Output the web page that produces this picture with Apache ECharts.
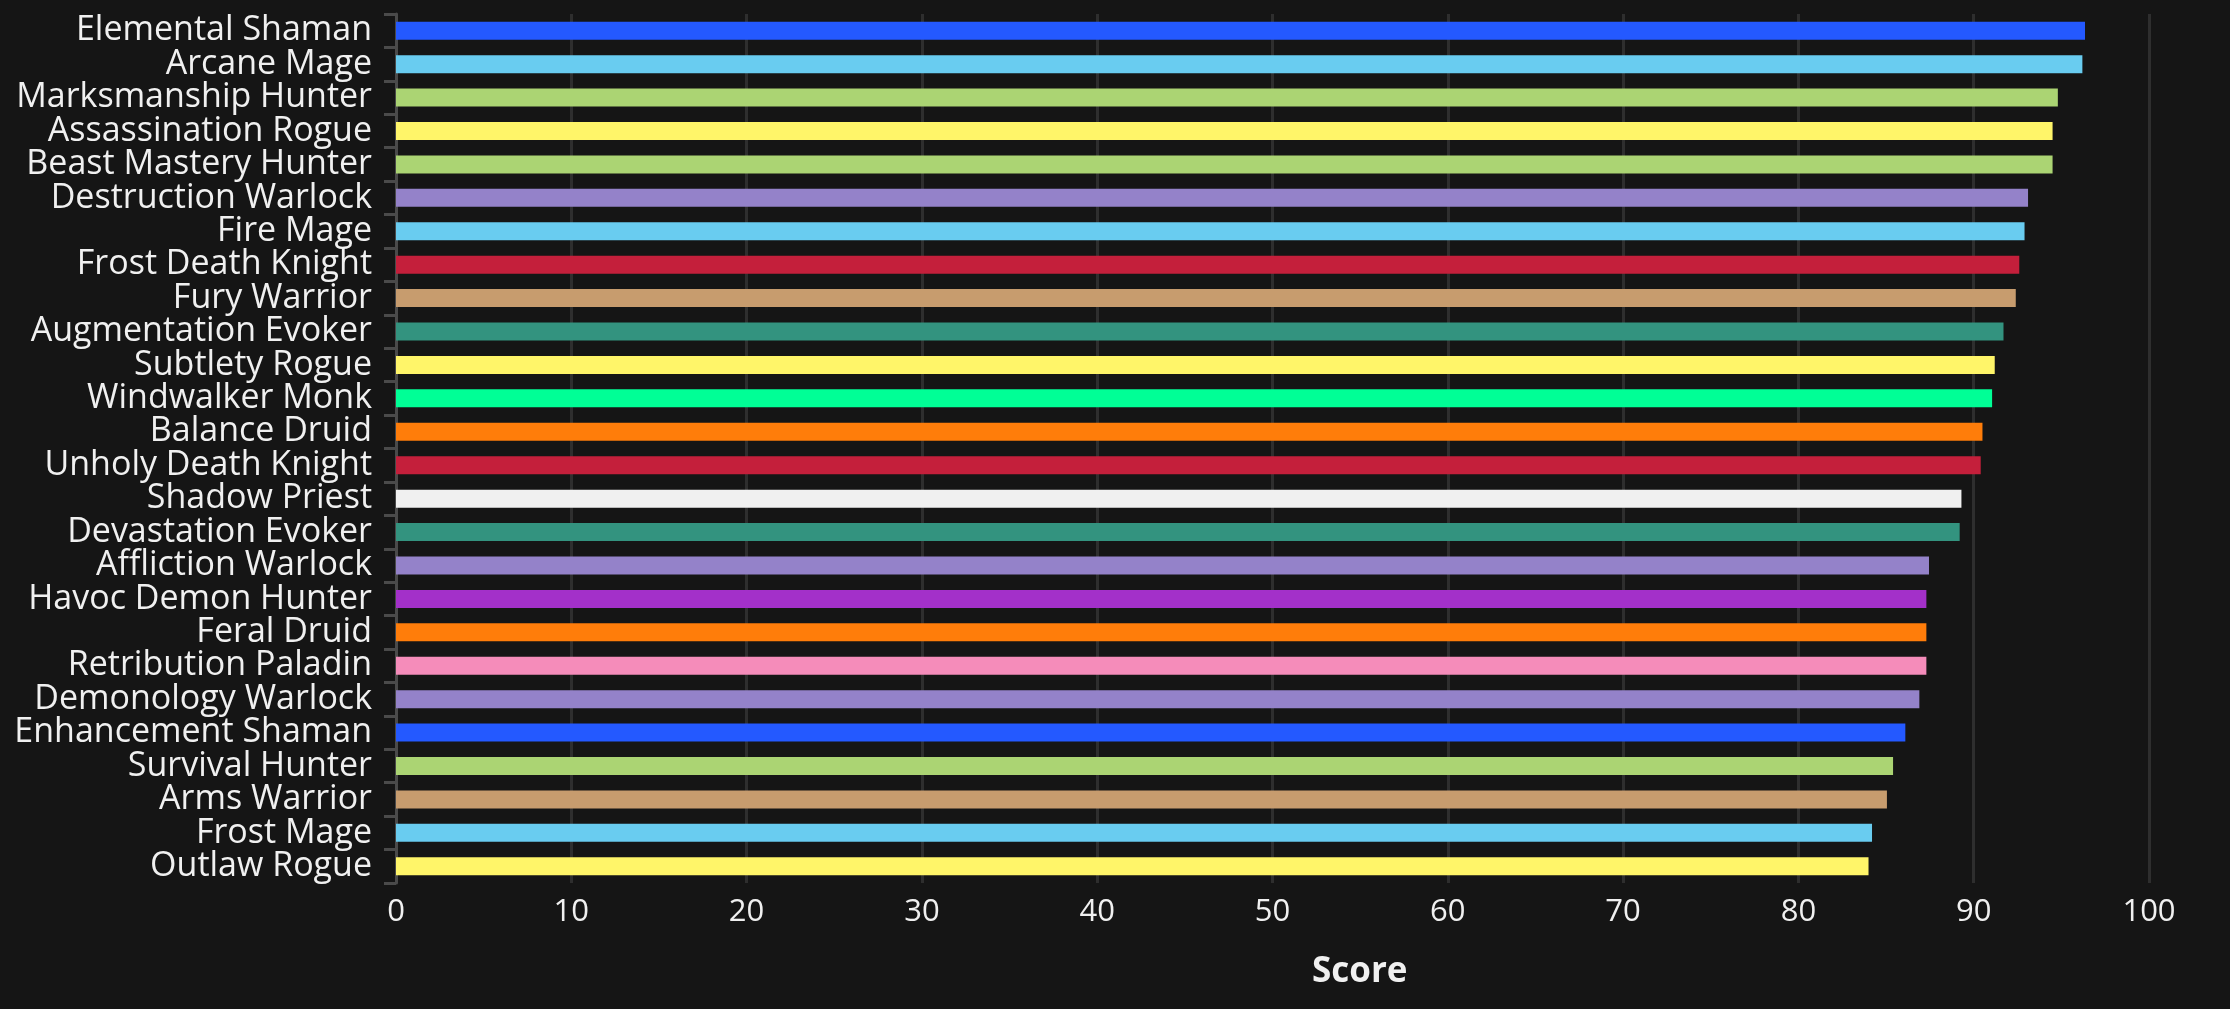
<!DOCTYPE html>
<html><head><meta charset="utf-8">
<script src="https://cdn.jsdelivr.net/npm/echarts@6/dist/echarts.min.js"></script>
<style>html,body{margin:0;padding:0;background:#151515;}#c{width:2230px;height:1009px;}</style>
</head><body><div id="c"></div>
<script>
const specs = ["Elemental Shaman","Arcane Mage","Marksmanship Hunter","Assassination Rogue","Beast Mastery Hunter","Destruction Warlock","Fire Mage","Frost Death Knight","Fury Warrior","Augmentation Evoker","Subtlety Rogue","Windwalker Monk","Balance Druid","Unholy Death Knight","Shadow Priest","Devastation Evoker","Affliction Warlock","Havoc Demon Hunter","Feral Druid","Retribution Paladin","Demonology Warlock","Enhancement Shaman","Survival Hunter","Arms Warrior","Frost Mage","Outlaw Rogue"];
const scores = [96.35,96.2,94.8,94.5,94.5,93.1,92.9,92.6,92.4,91.7,91.2,91.05,90.5,90.4,89.3,89.2,87.45,87.3,87.3,87.3,86.9,86.1,85.4,85.05,84.2,84.0];
const barColors = ["#2459FF","#69CCF0","#ABD473","#FFF569","#ABD473","#9482C9","#69CCF0","#C41F3B","#C79C6E","#33937F","#FFF569","#00FF96","#FF7D0A","#C41F3B","#F0F0F0","#33937F","#9482C9","#A330C9","#FF7D0A","#F58CBA","#9482C9","#2459FF","#ABD473","#C79C6E","#69CCF0","#FFF569"];
const xTicks = {min:0, max:100, interval:10};
const axisName = "Score";

const chart = echarts.init(document.getElementById('c'), null, {renderer:'canvas'});
chart.setOption({
  backgroundColor:'#151515',
  animation:false,
  grid:{left:396, right:81, top:14, bottom:126, containLabel:false},
  xAxis:{
    type:'value', min:xTicks.min, max:xTicks.max, interval:xTicks.interval,
    axisLine:{show:false}, axisTick:{show:false},
    splitLine:{show:true, lineStyle:{color:'#2e2e2e', width:3}},
    axisLabel:{color:'#f0f0f0', fontFamily:'Open Sans', fontSize:31, margin:14}
  },
  yAxis:{
    type:'category', inverse:true, data:specs,
    axisLine:{show:true, lineStyle:{color:'#4a4a4a', width:3}},
    axisTick:{show:true, length:12, lineStyle:{color:'#4a4a4a', width:3}},
    axisLabel:{color:'#f0f0f0', fontFamily:'Open Sans', fontSize:34, margin:24, interval:0, padding:[4,0,0,0]}
  },
  graphic:[{type:'text', left:1312, top:955, style:{text:axisName, fill:'#f0f0f0', font:'bold 35px "Open Sans"'}}],
  series:[{
    type:'bar', barWidth:18,
    data:scores.map((v,i)=>({value:v, itemStyle:{color:barColors[i]}}))
  }]
});
</script></body></html>
